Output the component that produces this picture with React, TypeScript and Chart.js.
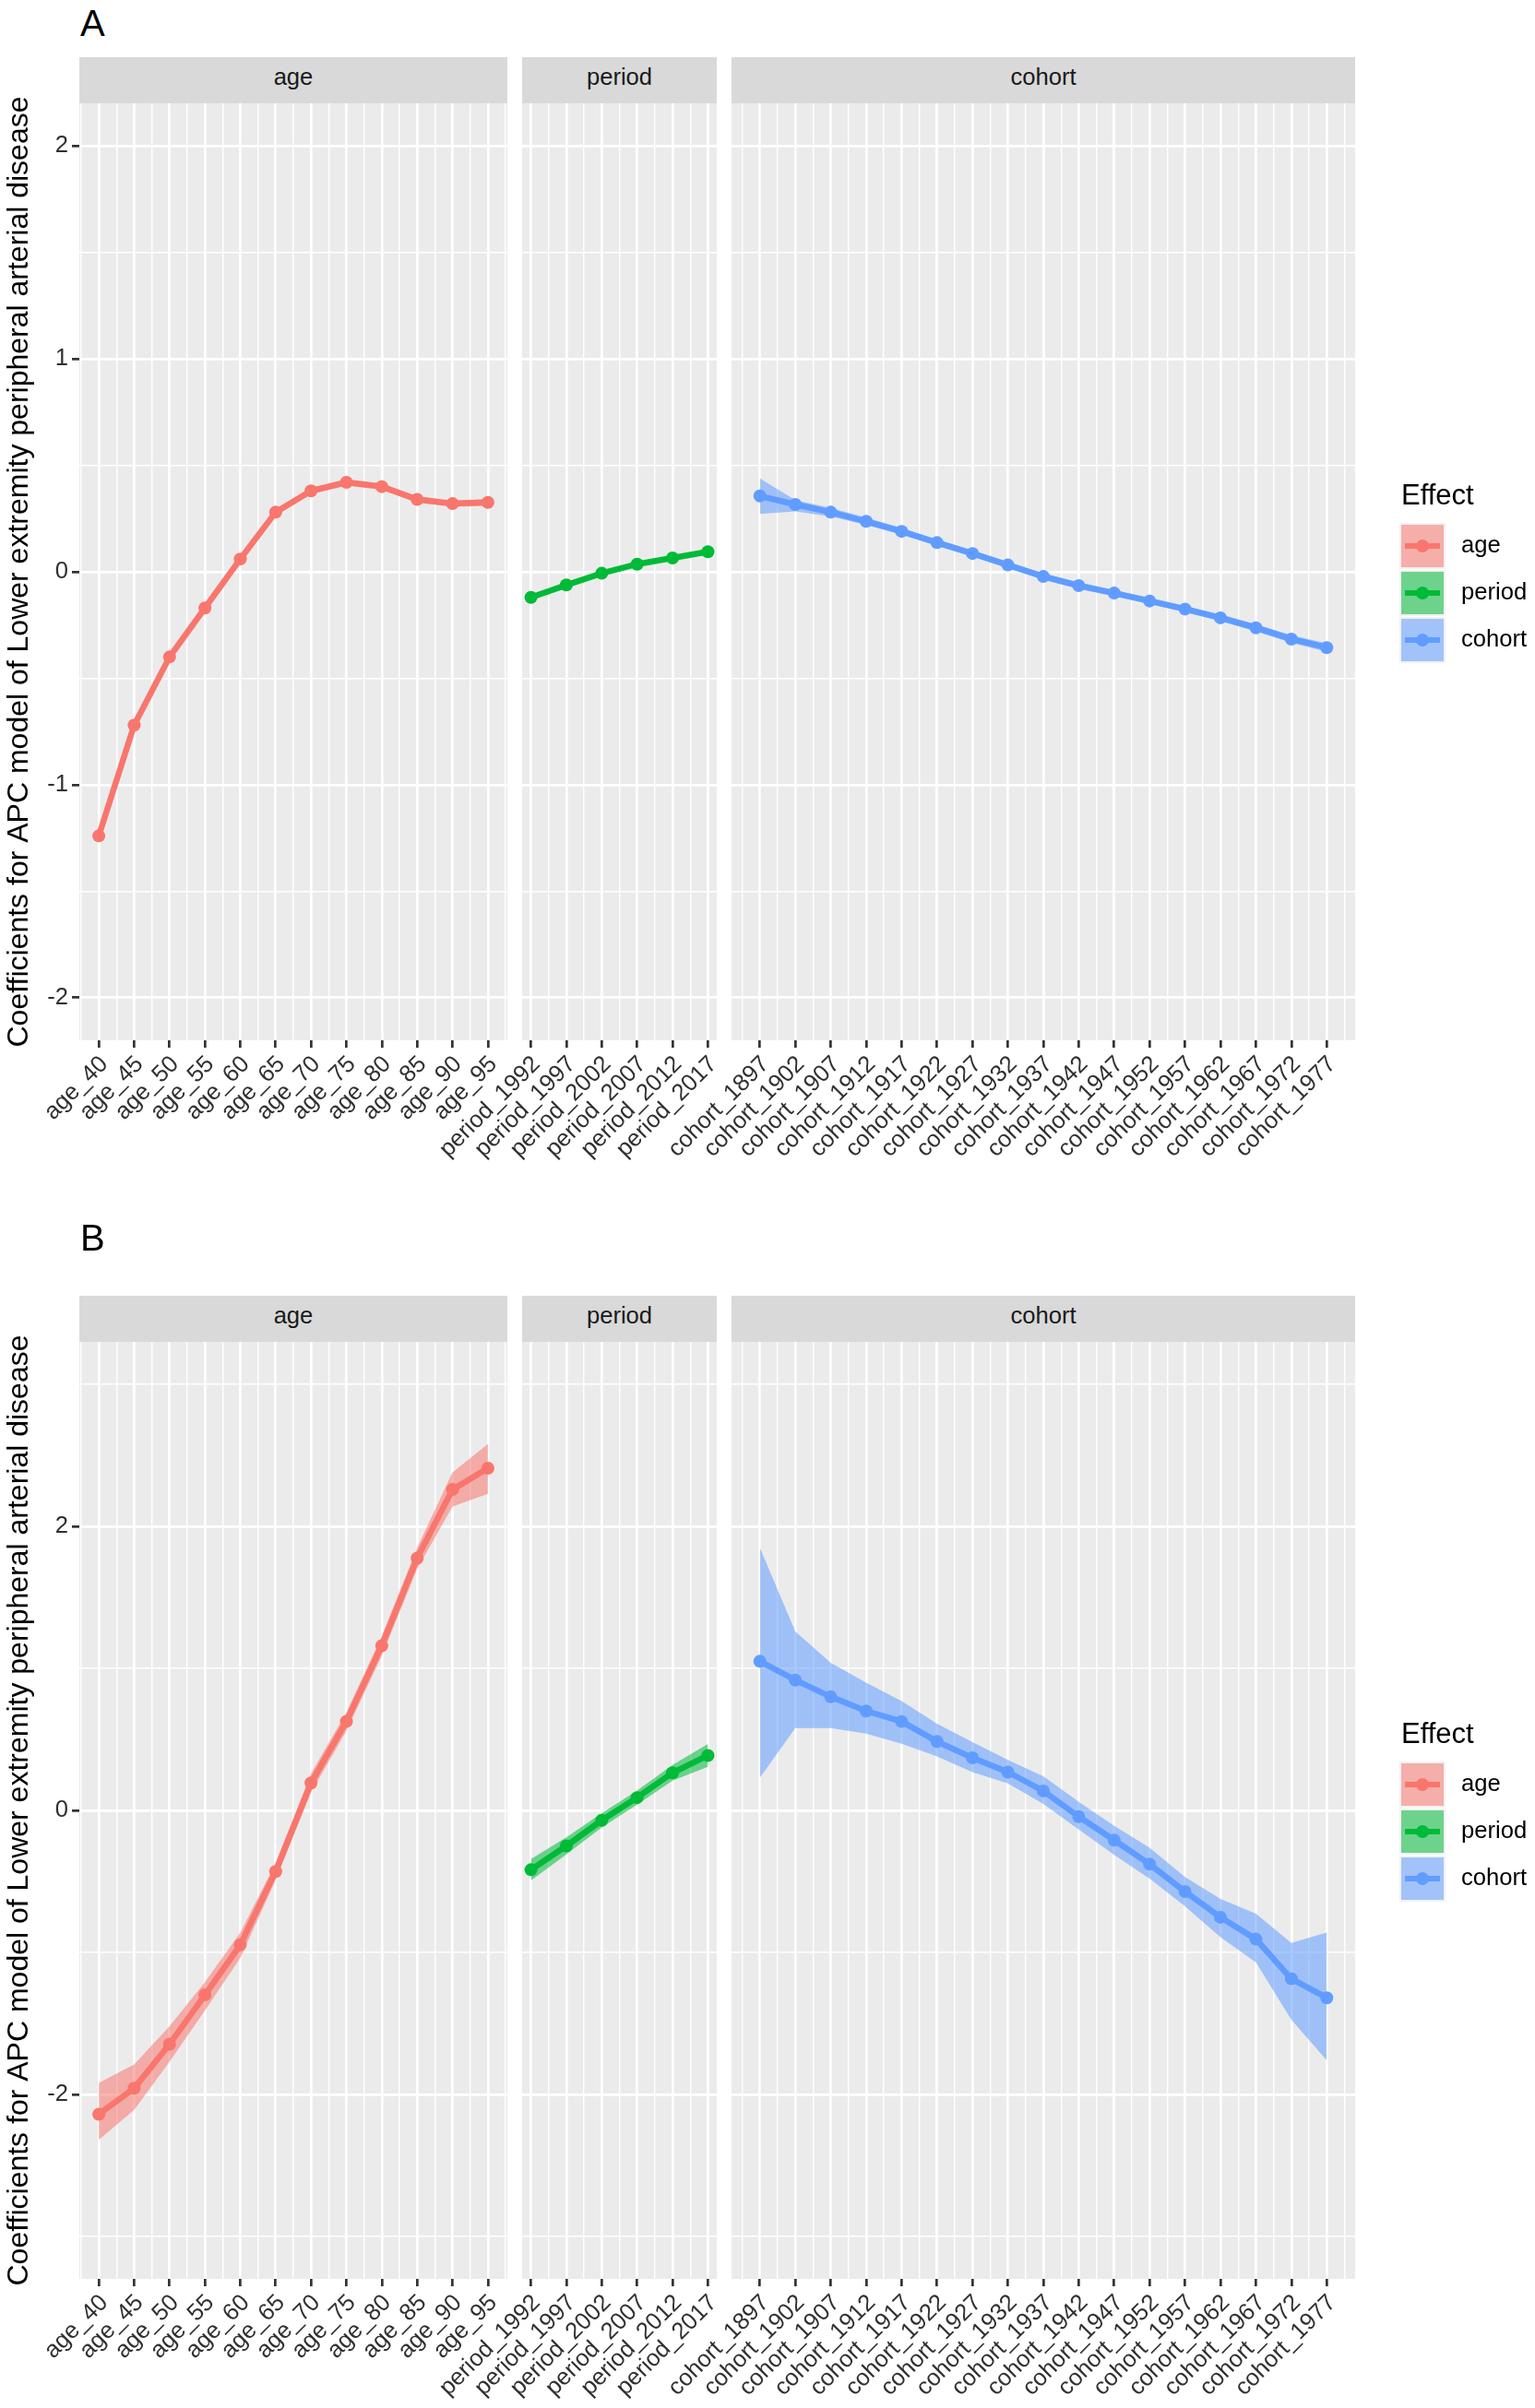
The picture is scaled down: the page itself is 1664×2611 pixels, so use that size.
import React, { useEffect, useRef } from "react";
import { Chart, registerables } from "chart.js";

Chart.register(...registerables);

const FONT = '"Liberation Sans", Arial, Helvetica, sans-serif';
Chart.defaults.font.family = FONT;

// ---------- categories ----------
const ageLabels = ["age_40", "age_45", "age_50", "age_55", "age_60", "age_65", "age_70", "age_75", "age_80", "age_85", "age_90", "age_95"];
const periodLabels = ["period_1992", "period_1997", "period_2002", "period_2007", "period_2012", "period_2017"];
const cohortLabels = ["cohort_1897", "cohort_1902", "cohort_1907", "cohort_1912", "cohort_1917", "cohort_1922", "cohort_1927", "cohort_1932", "cohort_1937", "cohort_1942", "cohort_1947", "cohort_1952", "cohort_1957", "cohort_1962", "cohort_1967", "cohort_1972", "cohort_1977"];

// ---------- panel A ----------
const ageA = [-1.24, -0.72, -0.40, -0.17, 0.06, 0.28, 0.38, 0.42, 0.40, 0.34, 0.32, 0.326];
const ageALow = [-1.26, -0.74, -0.42, -0.19, 0.045, 0.265, 0.365, 0.405, 0.385, 0.325, 0.305, 0.31];
const ageAHigh = [-1.22, -0.70, -0.38, -0.15, 0.075, 0.295, 0.395, 0.435, 0.415, 0.355, 0.335, 0.342];
const periodA = [-0.12, -0.062, -0.007, 0.036, 0.065, 0.094];
const periodALow = [-0.132, -0.072, -0.017, 0.026, 0.055, 0.082];
const periodAHigh = [-0.108, -0.052, 0.003, 0.046, 0.075, 0.106];
const cohortA = [0.356, 0.316, 0.28, 0.237, 0.19, 0.137, 0.086, 0.032, -0.022, -0.065, -0.10, -0.137, -0.175, -0.216, -0.263, -0.316, -0.356];
const cohortALow = [0.272, 0.284, 0.26, 0.22, 0.174, 0.122, 0.071, 0.017, -0.037, -0.08, -0.115, -0.152, -0.19, -0.232, -0.28, -0.334, -0.376];
const cohortAHigh = [0.438, 0.337, 0.30, 0.254, 0.206, 0.152, 0.101, 0.047, -0.007, -0.05, -0.085, -0.122, -0.16, -0.2, -0.246, -0.298, -0.336];

// ---------- panel B ----------
const ageB = [-2.14, -1.957, -1.647, -1.30, -0.947, -0.43, 0.193, 0.627, 1.16, 1.777, 2.26, 2.41];
const ageBLow = [-2.32, -2.11, -1.77, -1.41, -1.04, -0.49, 0.127, 0.56, 1.09, 1.70, 2.14, 2.23];
const ageBHigh = [-1.92, -1.79, -1.52, -1.21, -0.86, -0.37, 0.26, 0.69, 1.23, 1.85, 2.38, 2.58];
const periodB = [-0.418, -0.25, -0.07, 0.09, 0.265, 0.387];
const periodBLow = [-0.493, -0.31, -0.12, 0.04, 0.21, 0.307];
const periodBHigh = [-0.343, -0.19, -0.02, 0.14, 0.32, 0.467];
const cohortB = [1.05, 0.918, 0.80, 0.70, 0.626, 0.485, 0.37, 0.27, 0.137, -0.044, -0.21, -0.379, -0.572, -0.753, -0.907, -1.186, -1.32];
const cohortBLow = [0.23, 0.58, 0.58, 0.54, 0.47, 0.38, 0.27, 0.19, 0.046, -0.134, -0.314, -0.48, -0.675, -0.894, -1.07, -1.474, -1.76];
const cohortBHigh = [1.85, 1.26, 1.04, 0.90, 0.77, 0.61, 0.48, 0.356, 0.24, 0.06, -0.108, -0.263, -0.469, -0.624, -0.727, -0.933, -0.86];

// ---------- y axes ----------
const yLimA = [-2.2, 2.2];
const yBreaksA = [-2, -1, 0, 1, 2];
const yMinorA = [-1.5, -0.5, 0.5, 1.5];
const yLimB = [-3.3, 3.3];
const yBreaksB = [-2, 0, 2];
const yMinorB = [-3, -1, 1, 3];

const effects = ["age", "period", "cohort"];
const Y_TITLE = "Coefficients for APC model of Lower extremity peripheral arterial disease";

const COLORS: Record<string, string> = { age: "#F8766D", period: "#00BA38", cohort: "#619CFF" };
const FILLS: Record<string, string> = {
  age: "rgba(248,118,109,0.55)",
  period: "rgba(0,186,56,0.55)",
  cohort: "rgba(97,156,255,0.55)",
};

// ---------- layout ----------
const W = 1664;
const TOPPAD = 30;
const XAXIS_H = 200;
const PANEL_H = 1016;
const FACET_X: Record<string, [number, number]> = { age: [86, 550], period: [566, 777], cohort: [793, 1469] };
const Y_AXIS_W = 84;

const panelBg = {
  id: "panelBg",
  beforeDraw(chart: any) {
    const { ctx, chartArea: a } = chart;
    ctx.save();
    ctx.fillStyle = "#EBEBEB";
    ctx.fillRect(a.left, a.top, a.right - a.left, a.bottom - a.top);
    ctx.restore();
  },
};

type FacetProps = {
  labels: string[];
  est: number[];
  lo: number[];
  hi: number[];
  effect: string;
  panelTop: number;
  yLim: number[];
  yBreaks: number[];
  yMinor: number[];
  showY: boolean;
};

function Facet(p: FacetProps) {
  const ref = useRef<HTMLCanvasElement | null>(null);
  const [x0, x1] = FACET_X[p.effect];
  const h = TOPPAD + PANEL_H + XAXIS_H;
  const top = p.panelTop - TOPPAD;
  useEffect(() => {
    const canvas = ref.current;
    if (!canvas) return;
    const n = p.labels.length;
    const xExp = 0.05 * (n - 1);
    const xMin = -xExp;
    const xMax = n - 1 + xExp;
    const xTicks: number[] = [];
    for (let k = Math.ceil(xMin * 2); k <= Math.floor(xMax * 2); k++) xTicks.push(k / 2);
    const yTicks = [...p.yBreaks, ...p.yMinor].sort((a, b) => a - b);
    const isXMajor = (v: any) => typeof v === "number" && Number.isInteger(v);
    const isYMajor = (v: any) => p.yBreaks.includes(v);
    const pts = (arr: number[]) => arr.map((y, i) => ({ x: i, y }));
    const color = COLORS[p.effect];
    const chart = new Chart(canvas, {
      type: "line",
      data: {
        datasets: [
          { data: pts(p.lo), borderWidth: 0, pointRadius: 0, fill: false, borderColor: "rgba(0,0,0,0)" },
          { data: pts(p.hi), borderWidth: 0, pointRadius: 0, fill: "-1", backgroundColor: FILLS[p.effect], borderColor: "rgba(0,0,0,0)" },
          {
            data: pts(p.est),
            borderColor: color,
            backgroundColor: color,
            borderWidth: 6.5,
            pointRadius: 7,
            pointHoverRadius: 7,
            pointBackgroundColor: color,
            pointBorderWidth: 0,
            fill: false,
            tension: 0,
          },
        ],
      } as any,
      options: {
        responsive: false,
        animation: false,
        devicePixelRatio: 1,
        events: [],
        layout: {
          padding: { left: p.showY ? x0 - Y_AXIS_W : x0, right: W - x1, top: TOPPAD, bottom: 0 },
        },
        plugins: { legend: { display: false }, tooltip: { enabled: false } },
        scales: {
          x: {
            type: "linear",
            min: xMin,
            max: xMax,
            bounds: "data",
            afterBuildTicks: (s: any) => {
              s.ticks = xTicks.map((v) => ({ value: v }));
            },
            afterFit: (s: any) => {
              s.height = XAXIS_H;
            },
            border: { display: false },
            grid: {
              color: "#FFFFFF",
              lineWidth: (c: any) => (c.tick && isXMajor(c.tick.value) ? 2.7 : 1.4),
              drawTicks: true,
              tickLength: 8,
              tickWidth: 2.7,
              tickColor: (c: any) => (c.tick && isXMajor(c.tick.value) ? "#333333" : "rgba(0,0,0,0)"),
            },
            ticks: {
              autoSkip: false,
              minRotation: 45,
              maxRotation: 45,
              padding: 3,
              labelOffset: 6,
              color: "#303030",
              font: { size: 25.6, family: FONT },
              callback: (v: any) => (isXMajor(v) ? p.labels[v] : ""),
            },
          },
          y: {
            type: "linear",
            min: p.yLim[0],
            max: p.yLim[1],
            bounds: "data",
            afterBuildTicks: (s: any) => {
              s.ticks = yTicks.map((v) => ({ value: v }));
            },
            afterFit: (s: any) => {
              s.width = p.showY ? Y_AXIS_W : 0;
            },
            border: { display: false },
            grid: {
              color: "#FFFFFF",
              lineWidth: (c: any) => (c.tick && isYMajor(c.tick.value) ? 2.7 : 1.4),
              drawTicks: p.showY,
              tickLength: 8,
              tickWidth: 2.7,
              tickColor: (c: any) => (c.tick && isYMajor(c.tick.value) ? "#333333" : "rgba(0,0,0,0)"),
            },
            ticks: {
              display: p.showY,
              padding: 4,
              color: "#303030",
              font: { size: 25.6, family: FONT },
              callback: (v: any) => (isYMajor(v) ? String(v) : ""),
            },
            title: {
              display: p.showY,
              text: Y_TITLE,
              color: "#000000",
              padding: 0,
              font: { size: 32, family: FONT },
            },
          },
        },
      } as any,
      plugins: [panelBg],
    });
    return () => chart.destroy();
  }, []);
  return (
    <canvas
      ref={ref}
      width={W}
      height={h}
      style={{ position: "absolute", left: 0, top, width: W, height: h }}
    />
  );
}

function Text(props: { x: number; baseline: number; size: number; text: string; color?: string; center?: boolean; width?: number }) {
  // line-height = font-size; Liberation Sans baseline sits ~0.848em below top
  const top = props.baseline - props.size * 0.848;
  return (
    <div
      style={{
        position: "absolute",
        left: props.center ? props.x - (props.width || 300) / 2 : props.x,
        width: props.center ? props.width || 300 : undefined,
        top,
        fontFamily: FONT,
        fontSize: props.size,
        lineHeight: `${props.size}px`,
        color: props.color || "#000",
        textAlign: props.center ? "center" : "left",
        whiteSpace: "nowrap",
      }}
    >
      {props.text}
    </div>
  );
}

type RowProps = {
  letter: string;
  letterCapTop: number;
  stripTop: number;
  panelTop: number;
  legendTitleBase: number;
  legendKeyTop: number;
  yLim: number[];
  yBreaks: number[];
  yMinor: number[];
  series: Record<string, number[][]>;
};

function Row(r: RowProps) {
  const labelsOf: Record<string, string[]> = { age: ageLabels, period: periodLabels, cohort: cohortLabels };
  return (
    <>
      <Text x={87} baseline={r.letterCapTop + 28.6} size={40} text={r.letter} />
      {effects.map((e) => {
        const [x0, x1] = FACET_X[e];
        return (
          <div
            key={"strip" + e}
            style={{ position: "absolute", left: x0, top: r.stripTop, width: x1 - x0, height: r.panelTop - r.stripTop, background: "#D9D9D9" }}
          />
        );
      })}
      {effects.map((e) => {
        const [x0, x1] = FACET_X[e];
        return <Text key={"st" + e} x={(x0 + x1) / 2} width={x1 - x0} center baseline={r.stripTop + 31} size={25.6} text={e} color="#1A1A1A" />;
      })}
      {effects.map((e) => (
        <Facet
          key={"f" + e}
          labels={labelsOf[e]}
          est={r.series[e][0]}
          lo={r.series[e][1]}
          hi={r.series[e][2]}
          effect={e}
          panelTop={r.panelTop}
          yLim={r.yLim}
          yBreaks={r.yBreaks}
          yMinor={r.yMinor}
          showY={e === "age"}
        />
      ))}
      <Text x={1519} baseline={r.legendTitleBase} size={31} text="Effect" />
      {effects.map((e, i) => {
        const top = r.legendKeyTop + i * 51;
        return (
          <React.Fragment key={"lg" + e}>
            <div style={{ position: "absolute", left: 1517, top: top - 2, width: 50, height: 50, background: "#F2F2F2" }} />
            <div style={{ position: "absolute", left: 1519, top, width: 46, height: 46, background: FILLS[e] }} />
            <div style={{ position: "absolute", left: 1523, top: top + 20, width: 38, height: 6, background: COLORS[e] }} />
            <div style={{ position: "absolute", left: 1535, top: top + 16, width: 14, height: 14, borderRadius: 7, background: COLORS[e] }} />
            <Text x={1584} baseline={top + 23 + 8} size={25.6} text={e} />
          </React.Fragment>
        );
      })}
    </>
  );
}

export default function App() {
  return (
    <div style={{ position: "absolute", left: 0, top: 0, width: W, height: 2611, background: "#FFFFFF", overflow: "hidden" }}>
      <Row
        letter="A"
        letterCapTop={10}
        stripTop={62}
        panelTop={112}
        legendTitleBase={547}
        legendKeyTop={569}
        yLim={yLimA}
        yBreaks={yBreaksA}
        yMinor={yMinorA}
        series={{
          age: [ageA, ageALow, ageAHigh],
          period: [periodA, periodALow, periodAHigh],
          cohort: [cohortA, cohortALow, cohortAHigh],
        }}
      />
      <Row
        letter="B"
        letterCapTop={1327}
        stripTop={1405}
        panelTop={1455}
        legendTitleBase={1890}
        legendKeyTop={1912}
        yLim={yLimB}
        yBreaks={yBreaksB}
        yMinor={yMinorB}
        series={{
          age: [ageB, ageBLow, ageBHigh],
          period: [periodB, periodBLow, periodBHigh],
          cohort: [cohortB, cohortBLow, cohortBHigh],
        }}
      />
    </div>
  );
}
